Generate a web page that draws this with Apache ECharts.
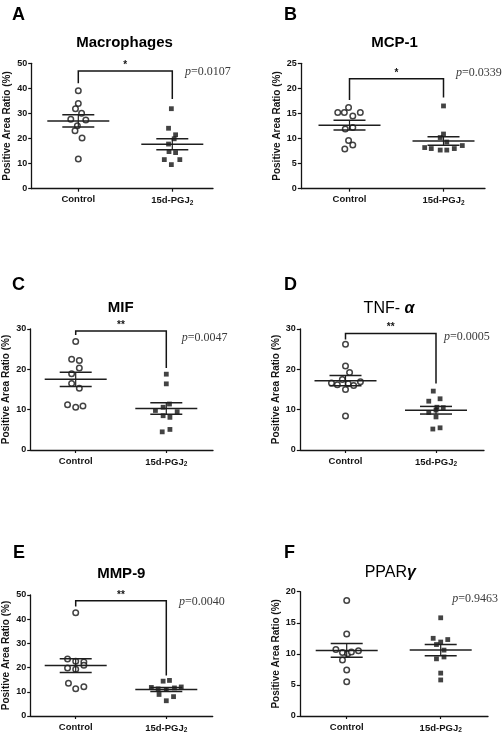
<!DOCTYPE html>
<html><head><meta charset="utf-8">
<script src="https://cdn.jsdelivr.net/npm/echarts@6/dist/echarts.min.js"></script>
<style>html,body{margin:0;padding:0;background:#fff}#c{width:504px;height:734px}</style>
</head><body><div id="c"></div>
<script>
// ---------- data ----------
const categories = ['Control', '15d-PGJ2'];
const panelLetters = ['A', 'B', 'C', 'D', 'E', 'F'];
const panelTitles = ['Macrophages', 'MCP-1', 'MIF', 'TNF-α', 'MMP-9', 'PPARγ'];
const yMax = [50, 25, 30, 30, 50, 20];
const yInterval = [10, 5, 10, 10, 10, 5];
const pValues = ['0.0107', '0.0339', '0.0047', '0.0005', '0.0040', '0.9463'];
const sigMarks = ['*', '*', '**', '**', '**', ''];

// values (%), and horizontal jitter (in category units)
const macroControl = [39.1, 34.0, 31.9, 30.1, 27.7, 27.4, 25.1, 23.1, 20.2, 11.8];
const macroControlJit = [0, 0, -0.03, 0.035, -0.08, 0.08, -0.01, -0.035, 0.04, 0];
const macroPGJ = [31.9, 24.1, 21.5, 19.9, 17.8, 14.8, 14.4, 11.6, 11.6, 9.6];
const macroPGJJit = [-0.01, -0.04, 0.035, 0.02, -0.04, -0.035, 0.035, -0.085, 0.08, -0.01];

const mcpControl = [15.2, 15.2, 16.2, 14.5, 15.2, 11.9, 12.2, 9.6, 8.7, 7.9];
const mcpControlJit = [-0.125, -0.055, -0.01, 0.035, 0.115, -0.045, 0.035, -0.01, 0.035, -0.05];
const mcpPGJ = [16.5, 10.9, 10.2, 9.3, 8.2, 8.0, 7.7, 7.7, 8.0, 8.6];
const mcpPGJJit = [0, 0, -0.035, 0.035, -0.2, -0.13, -0.035, 0.035, 0.115, 0.2];

const mifControl = [26.9, 22.5, 22.2, 20.3, 18.9, 16.5, 15.3, 11.2, 10.6, 10.9];
const mifControlJit = [0, -0.045, 0.04, 0.04, -0.045, -0.045, 0.04, -0.09, 0, 0.08];
const mifPGJ = [18.8, 16.4, 11.4, 10.6, 9.8, 9.5, 8.5, 8.1, 4.5, 5.1];
const mifPGJJit = [0, 0, 0.035, -0.035, -0.12, 0.12, -0.035, 0.04, -0.045, 0.04];

const tnfControl = [26.2, 20.8, 19.2, 17.5, 16.6, 16.2, 16.4, 15.0, 16.0, 16.9, 8.4];
const tnfControlJit = [0, 0, 0.045, -0.035, -0.155, -0.09, 0.03, 0, 0.09, 0.165, 0];
const tnfPGJ = [14.6, 12.7, 12.1, 10.6, 10.5, 9.3, 9.9, 8.2, 5.2, 5.5];
const tnfPGJJit = [-0.03, 0.045, -0.08, 0.01, 0.08, -0.08, 0, 0, -0.035, 0.045];

const mmpControl = [42.7, 23.6, 22.6, 22.3, 21.0, 19.8, 19.3, 13.5, 11.3, 12.1];
const mmpControlJit = [0, -0.09, 0, 0.09, 0.09, -0.09, 0, -0.08, 0, 0.09];
const mmpPGJ = [14.4, 14.7, 11.8, 11.2, 11.0, 11.6, 12.0, 8.9, 8.0, 6.3];
const mmpPGJJit = [-0.035, 0.035, -0.165, -0.09, 0, 0.09, 0.165, -0.08, 0.08, 0];

const pparControl = [18.6, 13.2, 10.7, 10.2, 10.0, 10.3, 10.5, 9.0, 7.4, 5.5];
const pparControlJit = [0, 0, -0.115, -0.045, 0.01, 0.05, 0.125, -0.045, 0, 0];
const pparPGJ = [15.8, 12.5, 11.9, 12.3, 11.5, 10.6, 9.2, 9.5, 6.9, 5.8];
const pparPGJJit = [0, -0.08, 0, 0.075, -0.045, 0.035, -0.045, 0.035, 0, 0];

// significance brackets: [left foot, top, right foot]
const macroBracket = [42.0, 46.9, 35.8];
const mcpBracket = [17.7, 21.9, 18.2];
const mifBracket = [28.5, 29.5, 20.3];
const tnfBracket = [27.4, 28.9, 16.5];
const mmpBracket = [45.2, 47.6, 16.7];
const pparBracket = null;

const panels = [
  [macroControl, macroControlJit, macroPGJ, macroPGJJit, macroBracket],
  [mcpControl, mcpControlJit, mcpPGJ, mcpPGJJit, mcpBracket],
  [mifControl, mifControlJit, mifPGJ, mifPGJJit, mifBracket],
  [tnfControl, tnfControlJit, tnfPGJ, tnfPGJJit, tnfBracket],
  [mmpControl, mmpControlJit, mmpPGJ, mmpPGJJit, mmpBracket],
  [pparControl, pparControlJit, pparPGJ, pparPGJJit, pparBracket]
];

// ---------- layout (pixels) ----------
const layout = [
  {x0: 31.7, x1: 213, y0: 63.3, y1: 188.7, c: 78.3, p: 172.3, lx: 12, ly: 12, tx: 124.5, ty: 43, px: 185, py: 71.5},
  {x0: 301.3, x1: 485, y0: 63.3, y1: 188.7, c: 349.5, p: 443.5, lx: 284, ly: 12, tx: 394.5, ty: 43, px: 456, py: 72.5},
  {x0: 30.7, x1: 213, y0: 329, y1: 450, c: 75.7, p: 166.3, lx: 12, ly: 282, tx: 120.7, ty: 308.3, px: 181.7, py: 337.5},
  {x0: 300.3, x1: 484, y0: 329, y1: 450, c: 345.5, p: 436, lx: 284, ly: 282, tx: 389, ty: 308.3, px: 444, py: 336.5},
  {x0: 30.7, x1: 212.7, y0: 595, y1: 716.7, c: 75.7, p: 166.3, lx: 13, ly: 550, tx: 121.3, ty: 574.3, px: 179, py: 601.5},
  {x0: 300.3, x1: 488, y0: 591.7, y1: 716.7, c: 346.7, p: 440.7, lx: 284, ly: 550, tx: 390.3, ty: 572.7, px: 452.3, py: 599}
];

const SANS = '"Liberation Sans", Arial, Helvetica, sans-serif';
const SERIF = '"Liberation Serif", "Times New Roman", serif';
const INK = '#141414';

function mean(a) { return a.reduce((s, v) => s + v, 0) / a.length; }
function sem(a) {
  const m = mean(a);
  const v = a.reduce((s, x) => s + (x - m) * (x - m), 0) / (a.length - 1);
  return Math.sqrt(v) / Math.sqrt(a.length);
}

const grid = [], xAxis = [], yAxis = [], series = [], graphic = [];

panels.forEach((pd, i) => {
  const L = layout[i];
  const [ctrl, ctrlJ, pgj, pgjJ, br] = pd;
  const sp = L.p - L.c;
  grid.push({left: L.x0, top: L.y0, width: L.x1 - L.x0, height: L.y1 - L.y0});
  xAxis.push({
    type: 'value', gridIndex: i,
    min: -(L.c - L.x0) / sp, max: 1 + (L.x1 - L.p) / sp,
    splitLine: {show: false},
    axisLine: {show: true, onZero: false, lineStyle: {color: INK, width: 1.3}},
    axisTick: {show: true, customValues: [0, 1], length: 3, lineStyle: {color: INK, width: 1.2}},
    axisLabel: {
      show: true, customValues: [0, 1], margin: 6,
      formatter: v => v < 0.5 ? categories[0] : '15d-PGJ{sub|2}',
      color: INK, fontFamily: SANS, fontWeight: 'bold', fontSize: 9.5,
      rich: {sub: {fontSize: 6.5, fontWeight: 'bold', fontFamily: SANS, color: INK, padding: [5, 0, 0, 0]}}
    }
  });
  yAxis.push({
    type: 'value', gridIndex: i, min: 0, max: yMax[i], interval: yInterval[i],
    name: 'Positive Area Ratio (%)', nameLocation: 'middle', nameGap: 19, nameRotate: 90,
    nameTextStyle: {fontFamily: SANS, fontWeight: 'bold', fontSize: 10, color: INK},
    splitLine: {show: false},
    axisLine: {show: true, onZero: false, lineStyle: {color: INK, width: 1.3}},
    axisTick: {show: true, length: 3.5, lineStyle: {color: INK, width: 1.2}},
    axisLabel: {margin: 4.5, color: INK, fontFamily: SANS, fontWeight: 'bold', fontSize: 9}
  });
  series.push({
    type: 'scatter', xAxisIndex: i, yAxisIndex: i, symbol: 'circle', symbolSize: 5.5,
    itemStyle: {color: '#fff', borderColor: INK, borderWidth: 1.5}, z: 3,
    data: ctrl.map((v, k) => [0 + ctrlJ[k], v])
  });
  series.push({
    type: 'scatter', xAxisIndex: i, yAxisIndex: i, symbol: 'rect', symbolSize: 4.8,
    itemStyle: {color: INK}, z: 3,
    data: pgj.map((v, k) => [1 + pgjJ[k], v])
  });
  // mean ± SEM
  series.push({
    type: 'custom', xAxisIndex: i, yAxisIndex: i, z: 4, silent: true,
    data: [[0, mean(ctrl), sem(ctrl)], [1, mean(pgj), sem(pgj)]],
    renderItem: (params, api) => {
      const x = api.value(0), m = api.value(1), s = api.value(2);
      const pm = api.coord([x, m]), pu = api.coord([x, m + s]), pl = api.coord([x, m - s]);
      const st = {stroke: '#1e1e1e', lineWidth: 1.5};
      return {type: 'group', children: [
        {type: 'line', shape: {x1: pm[0] - 31, y1: pm[1], x2: pm[0] + 31, y2: pm[1]}, style: st},
        {type: 'line', shape: {x1: pu[0] - 16, y1: pu[1], x2: pu[0] + 16, y2: pu[1]}, style: st},
        {type: 'line', shape: {x1: pl[0] - 16, y1: pl[1], x2: pl[0] + 16, y2: pl[1]}, style: st},
        {type: 'line', shape: {x1: pu[0], y1: pu[1], x2: pl[0], y2: pl[1]}, style: {stroke: '#1e1e1e', lineWidth: 1.2}}
      ]};
    }
  });
  if (br) {
    series.push({
      type: 'custom', xAxisIndex: i, yAxisIndex: i, z: 4, silent: true,
      data: [[br[0], br[1], br[2]]],
      renderItem: (params, api) => {
        const a = api.coord([0, api.value(0)]), b = api.coord([0, api.value(1)]);
        const c = api.coord([1, api.value(1)]), d = api.coord([1, api.value(2)]);
        return {type: 'group', children: [
          {type: 'polyline', shape: {points: [a, b, c, d]}, style: {stroke: INK, lineWidth: 1.5, fill: null}},
          {type: 'text', x: (b[0] + c[0]) / 2, y: b[1] - 1, style: {text: sigMarks[i], fontFamily: SANS, fontWeight: 'bold', fontSize: 10, fill: INK, align: 'center', verticalAlign: 'bottom'}}
        ]};
      }
    });
  }
  // panel letter
  graphic.push({type: 'text', left: L.lx, top: L.ly - 6, style: {text: panelLetters[i], fontFamily: SANS, fontWeight: 'bold', fontSize: 18, fill: '#000'}});
  // title
  const greek = panelTitles[i].slice(-1);
  let titleStyle;
  if (i === 3 || i === 5) {
    const base = panelTitles[i].slice(0, -1);
    titleStyle = {
      text: '{r|' + base + '}{g|' + (i === 3 ? ' ' : '') + greek + '}',
      rich: {
        r: {fontFamily: SANS, fontSize: 16, fill: '#000'},
        g: {fontFamily: SANS, fontStyle: 'italic', fontWeight: 'bold', fontSize: 16, fill: '#000'}
      },
      align: 'center', verticalAlign: 'middle'
    };
  } else {
    titleStyle = {text: panelTitles[i], fontFamily: SANS, fontWeight: 'bold', fontSize: 15, fill: '#000', align: 'center', verticalAlign: 'middle'};
  }
  graphic.push({type: 'text', x: L.tx, y: L.ty, style: titleStyle});
  // p value
  graphic.push({type: 'text', x: L.px, y: L.py, style: {
    text: '{i|p}{n|=' + pValues[i] + '}',
    rich: {
      i: {fontFamily: SERIF, fontStyle: 'italic', fontSize: 12, fill: '#3a3a3a'},
      n: {fontFamily: SERIF, fontSize: 12, fill: '#3a3a3a'}
    },
    align: 'left', verticalAlign: 'middle'
  }});
});

const chart = echarts.init(document.getElementById('c'), null, {renderer: 'canvas'});
chart.setOption({animation: false, backgroundColor: '#fff', grid, xAxis, yAxis, series, graphic});
</script></body></html>
